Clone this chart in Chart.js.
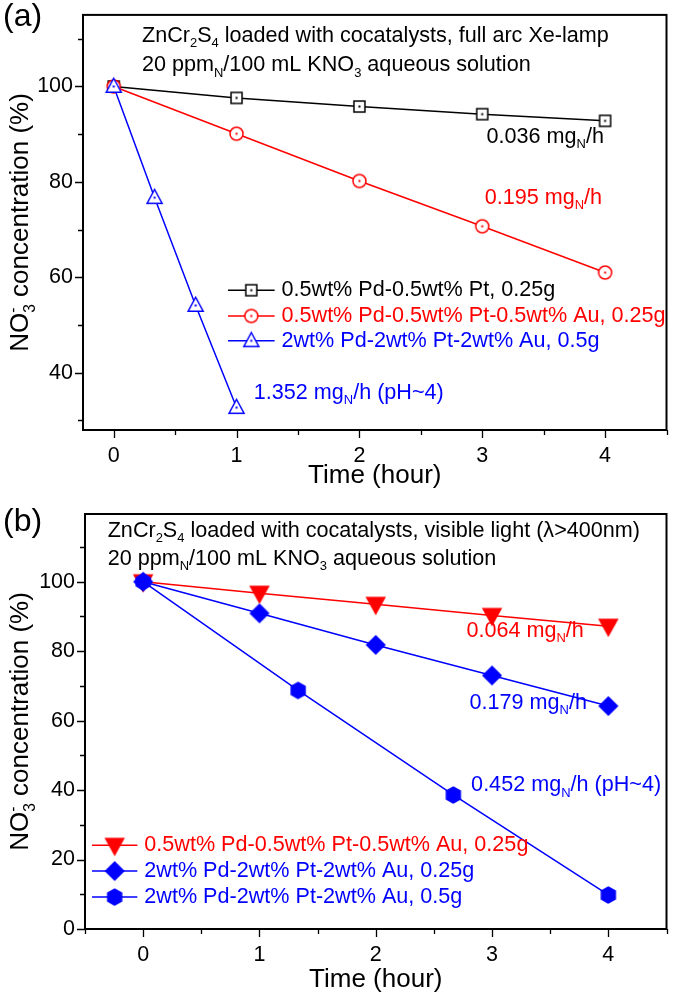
<!DOCTYPE html>
<html>
<head>
<meta charset="utf-8">
<script src="https://cdn.jsdelivr.net/npm/chart.js@4.4.1/dist/chart.umd.min.js"></script>
<style>
  html, body { margin: 0; padding: 0; background: #fff; }
  #wrap { position: relative; width: 675px; height: 997px; }
  canvas { position: absolute; left: 0; }
</style>
</head>
<body>
<div id="wrap">
  <canvas id="chartA" width="675" height="497" style="top:0"></canvas>
  <canvas id="chartB" width="675" height="500" style="top:497px"></canvas>
</div>
<script>
// ---- panel (a): full arc Xe-lamp ----
const timeA = [0, 1, 2, 3, 4];
const timeA3 = [0, 0.333, 0.667, 1];
const pdPtA = [100, 97.6, 95.8, 94.2, 92.8];
const pdPtAuA = [100, 90.1, 80.2, 70.7, 61.0];
const pdPtAu2A = [100, 76.7, 54.1, 32.7];
const labelsA = ['0.5wt% Pd-0.5wt% Pt, 0.25g', '0.5wt% Pd-0.5wt% Pt-0.5wt% Au, 0.25g', '2wt% Pd-2wt% Pt-2wt% Au, 0.5g'];
const ratesA = ['0.036 mg_N/h', '0.195 mg_N/h', '1.352 mg_N/h (pH~4)'];

// ---- panel (b): visible light ----
const timeB = [0, 1, 2, 3, 4];
const timeB3 = [0, 1.333, 2.667, 4];
const visAu05 = [100, 96.7, 93.5, 90.3, 87.2];
const visAu2q = [100, 90.9, 81.8, 73.0, 64.2];
const visAu2h = [100, 68.7, 38.6, 9.8];
const labelsB = ['0.5wt% Pd-0.5wt% Pt-0.5wt% Au, 0.25g', '2wt% Pd-2wt% Pt-2wt% Au, 0.25g', '2wt% Pd-2wt% Pt-2wt% Au, 0.5g'];
const ratesB = ['0.064 mg_N/h', '0.179 mg_N/h', '0.452 mg_N/h (pH~4)'];

const xTitle = 'Time (hour)';
const yTitle = 'NO_3^- concentration (%)';

const FONT = "'Liberation Sans',Arial,sans-serif";
const TXT = 21.6;
const RED = '#ff0000', BLUE = '#0000ff', BLACK = '#000000';

function pts(xs, ys) {
  return xs.map((x, i) => ({ x: x, y: ys[i] }));
}

// origin style markers drawn on small canvases
function marker(shape, color, size, open) {
  const c = document.createElement('canvas');
  const s = Math.ceil(size + 6);
  c.width = c.height = s;
  const g = c.getContext('2d');
  g.translate(s / 2, s / 2);
  g.lineWidth = 1.5;
  g.strokeStyle = color;
  g.fillStyle = open ? '#fff' : color;
  const r = size / 2;
  g.beginPath();
  if (shape === 'square') {
    g.rect(-r, -r, size, size);
  } else if (shape === 'circle') {
    g.arc(0, 0, r, 0, Math.PI * 2);
  } else if (shape === 'triangle') {
    g.moveTo(0, -r * 1.1); g.lineTo(r, r * 0.75); g.lineTo(-r, r * 0.75); g.closePath();
  } else if (shape === 'down') {
    g.moveTo(0, r * 1.05); g.lineTo(r, -r * 0.75); g.lineTo(-r, -r * 0.75); g.closePath();
  } else if (shape === 'diamond') {
    g.moveTo(0, -r); g.lineTo(r, 0); g.lineTo(0, r); g.lineTo(-r, 0); g.closePath();
  } else if (shape === 'hexagon') {
    for (let k = 0; k < 6; k++) {
      const a = Math.PI / 2 + k * Math.PI / 3;
      const px = r * Math.cos(a), py = r * Math.sin(a);
      if (k === 0) g.moveTo(px, py); else g.lineTo(px, py);
    }
    g.closePath();
  }
  g.fill();
  g.stroke();
  if (open) {
    g.fillStyle = color;
    g.fillRect(-1, -1, 2, 2);
  }
  return c;
}

const mk = {
  sq: marker('square', BLACK, 11, true),
  circ: marker('circle', RED, 13, true),
  tri: marker('triangle', BLUE, 15, true),
  down: marker('down', RED, 18, false),
  dia: marker('diamond', BLUE, 18, false),
  hex: marker('hexagon', BLUE, 16, false)
};

// tiny rich text: _x subscript, ^x superscript (stacked over a preceding subscript)
function parseRich(s) {
  const out = [];
  let buf = '';
  for (let i = 0; i < s.length; i++) {
    const c = s[i];
    if (c === '_' || c === '^') {
      if (buf) { out.push({ t: buf, k: 'n' }); buf = ''; }
      let t;
      if (s[i + 1] === '{') { const j = s.indexOf('}', i); t = s.slice(i + 2, j); i = j; }
      else { t = s[i + 1]; i++; }
      out.push({ t: t, k: c === '_' ? 'sub' : 'sup' });
    } else buf += c;
  }
  if (buf) out.push({ t: buf, k: 'n' });
  return out;
}

function drawRich(ctx, s, x, y, size, color, align) {
  const segs = parseRich(s);
  const small = size * 0.6;
  let cx = 0, prev = null;
  segs.forEach(g => {
    g.size = g.k === 'n' ? size : small;
    ctx.font = g.size + 'px ' + FONT;
    g.w = ctx.measureText(g.t).width;
    if (g.k === 'sup' && prev && prev.k === 'sub') {
      g.x = prev.x;
      cx = prev.x + Math.max(prev.w, g.w);
    } else {
      g.x = cx;
      cx += g.w;
    }
    g.dy = g.k === 'sub' ? size * 0.36 : (g.k === 'sup' ? -size * 0.3 : 0);
    prev = g;
  });
  const x0 = align === 'center' ? x - cx / 2 : x;
  ctx.save();
  ctx.fillStyle = color;
  ctx.textBaseline = 'middle';
  ctx.textAlign = 'left';
  segs.forEach(g => {
    ctx.font = g.size + 'px ' + FONT;
    ctx.fillText(g.t, x0 + g.x, y + g.dy);
  });
  ctx.restore();
}

// frame, ticks, titles, notes and legend
function decor(cfg) {
  return {
    id: 'decor',
    beforeDatasetsDraw(chart) {
      const ctx = chart.ctx;
      const a = chart.chartArea;
      const xs = chart.scales.x, ys = chart.scales.y;
      ctx.save();
      ctx.strokeStyle = '#000';
      ctx.lineWidth = 2;
      ctx.strokeRect(a.left, a.top, a.right - a.left, a.bottom - a.top);
      ctx.lineWidth = 1.3;
      ctx.beginPath();
      xs.ticks.forEach(t => {
        const p = Math.round(xs.getPixelForValue(t.value)) + 0.5;
        const len = Number.isInteger(t.value) ? 8 : 5;
        ctx.moveTo(p, a.bottom); ctx.lineTo(p, a.bottom + len);
      });
      ys.ticks.forEach(t => {
        const p = Math.round(ys.getPixelForValue(t.value)) + 0.5;
        const len = t.value % 20 === 0 ? 8 : 5;
        ctx.moveTo(a.left, p); ctx.lineTo(a.left - len, p);
      });
      ctx.stroke();
      ctx.restore();
    },
    afterDatasetsDraw(chart) {
      const ctx = chart.ctx;
      const a = chart.chartArea;
      const xs = chart.scales.x, ys = chart.scales.y;
      // panel letter
      ctx.save();
      ctx.font = '32px ' + FONT;
      ctx.fillStyle = '#000';
      ctx.textBaseline = 'middle';
      ctx.fillText(cfg.letter, 3, cfg.letterY);
      ctx.restore();
      // axis titles
      drawRich(ctx, xTitle, (a.left + a.right) / 2, cfg.xTitleY, 26, '#000', 'center');
      ctx.save();
      ctx.translate(21, (a.top + a.bottom) / 2);
      ctx.rotate(-Math.PI / 2);
      drawRich(ctx, yTitle, 0, 0, 26, '#000', 'center');
      ctx.restore();
      // notes
      cfg.notes.forEach(n => {
        drawRich(ctx, n.text, xs.getPixelForValue(n.x), ys.getPixelForValue(n.y), TXT, n.color, 'left');
      });
      // legend
      cfg.legend.forEach((l, i) => {
        const ds = chart.data.datasets[i];
        const y = ys.getPixelForValue(l.y);
        const x0 = xs.getPixelForValue(cfg.legX[0]), x1 = xs.getPixelForValue(cfg.legX[1]);
        ctx.save();
        ctx.strokeStyle = ds.borderColor;
        ctx.lineWidth = 1.5;
        ctx.beginPath();
        ctx.moveTo(x0, y); ctx.lineTo(x1, y);
        ctx.stroke();
        const img = ds.pointStyle;
        ctx.drawImage(img, (x0 + x1) / 2 - img.width / 2, y - img.height / 2);
        ctx.restore();
        drawRich(ctx, ds.label, xs.getPixelForValue(cfg.legX[2]), y, TXT, ds.borderColor, 'left');
      });
    }
  };
}

function axes(xmin, xmax, ymin, ymax, yw, xh) {
  return {
    x: {
      type: 'linear', min: xmin, max: xmax,
      grid: { display: false, drawTicks: true, tickLength: 8 },
      border: { display: false },
      ticks: {
        stepSize: 0.5, includeBounds: false, autoSkip: false, maxRotation: 0,
        padding: 5, color: '#000', font: { family: FONT, size: 21.5 },
        callback: v => Number.isInteger(v) ? String(v) : ''
      },
      afterFit: s => { s.height = xh; }
    },
    y: {
      min: ymin, max: ymax,
      grid: { display: false, drawTicks: true, tickLength: 8 },
      border: { display: false },
      ticks: {
        stepSize: 10, includeBounds: false, autoSkip: false,
        padding: 2, color: '#000', font: { family: FONT, size: 21.5 },
        callback: v => v % 20 === 0 ? String(v) : ''
      },
      afterFit: s => { s.width = yw; }
    }
  };
}

const common = { showLine: true, borderWidth: 1.5, pointRadius: 7, pointHoverRadius: 7 };

new Chart(document.getElementById('chartA'), {
  type: 'scatter',
  data: {
    datasets: [
      Object.assign({ label: labelsA[0], data: pts(timeA, pdPtA), borderColor: BLACK, pointStyle: mk.sq, order: 2 }, common),
      Object.assign({ label: labelsA[1], data: pts(timeA, pdPtAuA), borderColor: RED, pointStyle: mk.circ, order: 1 }, common),
      Object.assign({ label: labelsA[2], data: pts(timeA3, pdPtAu2A), borderColor: BLUE, pointStyle: mk.tri, order: 0 }, common)
    ]
  },
  options: {
    responsive: false,
    animation: false,
    layout: { padding: { left: 0, top: 13, right: 3, bottom: 0 } },
    plugins: { legend: { display: false }, tooltip: { enabled: false } },
    scales: axes(-0.25, 4.5, 28, 115, 83, 67)
  },
  plugins: [decor({
    letter: '(a)', letterY: 17, xTitleY: 476,
    notes: [
      { text: 'ZnCr_2S_4 loaded with cocatalysts, full arc Xe-lamp', x: 0.23, y: 110.6, color: BLACK },
      { text: '20 ppm_N/100 mL KNO_3 aqueous solution', x: 0.23, y: 104.4, color: BLACK },
      { text: ratesA[0], x: 3.035, y: 89.4, color: BLACK },
      { text: ratesA[1], x: 3.02, y: 76.7, color: RED },
      { text: ratesA[2], x: 1.14, y: 35.8, color: BLUE }
    ],
    legX: [0.93, 1.31, 1.366],
    legend: [{ y: 57.3 }, { y: 51.9 }, { y: 46.7 }]
  })]
});

new Chart(document.getElementById('chartB'), {
  type: 'scatter',
  data: {
    datasets: [
      Object.assign({ label: labelsB[0], data: pts(timeB, visAu05), borderColor: RED, pointStyle: mk.down, order: 2 }, common),
      Object.assign({ label: labelsB[1], data: pts(timeB, visAu2q), borderColor: BLUE, pointStyle: mk.dia, order: 0 }, common),
      Object.assign({ label: labelsB[2], data: pts(timeB3, visAu2h), borderColor: BLUE, pointStyle: mk.hex, order: 1 }, common)
    ]
  },
  options: {
    responsive: false,
    animation: false,
    layout: { padding: { left: 0, top: 17, right: 3, bottom: 0 } },
    plugins: { legend: { display: false }, tooltip: { enabled: false } },
    scales: axes(-0.5, 4.5, 0, 119.5, 85, 68)
  },
  plugins: [decor({
    letter: '(b)', letterY: 25, xTitleY: 483,
    notes: [
      { text: 'ZnCr_2S_4 loaded with cocatalysts, visible light (\u03bb>400nm)', x: -0.305, y: 114.7, color: BLACK },
      { text: '20 ppm_N/100 mL KNO_3 aqueous solution', x: -0.305, y: 106.6, color: BLACK },
      { text: ratesB[0], x: 2.78, y: 85.9, color: RED },
      { text: ratesB[1], x: 2.806, y: 65.2, color: BLUE },
      { text: ratesB[2], x: 2.82, y: 41.4, color: BLUE }
    ],
    legX: [-0.44, -0.05, 0.01],
    legend: [{ y: 24.1 }, { y: 16.7 }, { y: 9.2 }]
  })]
});
</script>
</body>
</html>
